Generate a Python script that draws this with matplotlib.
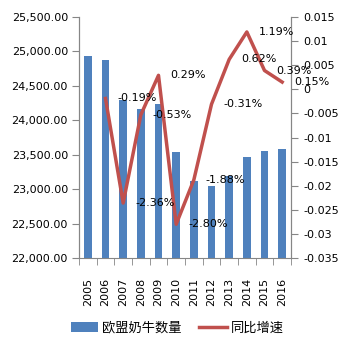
import matplotlib
matplotlib.use("Agg")
import matplotlib.pyplot as plt
import numpy as np
from matplotlib.ticker import FuncFormatter, FixedLocator

plt.rcParams['font.family'] = ['DejaVu Sans', 'Noto Sans CJK SC']

years = ['2005', '2006', '2007', '2008', '2009', '2010', '2011', '2012', '2013', '2014', '2015', '2016']
cows = [24930, 24880, 24290, 24170, 24230, 23545, 23120, 23045, 23190, 23470, 23558, 23588]
growth_years = years[1:]
growth = [-0.0019, -0.0236, -0.0053, 0.0029, -0.0280, -0.0188, -0.0031, 0.0062, 0.0119, 0.0039, 0.0015]
growth_labels = ['-0.19%', '-2.36%', '-0.53%', '0.29%', '-2.80%', '-1.88%', '-0.31%', '0.62%', '1.19%', '0.39%', '0.15%']

bar_color = '#4F81BD'
line_color = '#C0504D'
spine_color = '#868686'

fig = plt.figure(figsize=(3.52, 3.47), dpi=100)
ax = fig.add_axes([79/352, 1-258/347, (291-79)/352, (258-17)/347])
ax2 = ax.twinx()

x = np.arange(len(years))
ax.bar(x, cows, width=0.43, color=bar_color, label='欧盟奶牛数量', zorder=2)
ax.set_ylim(22000, 25500)
ax.set_xlim(-0.5, len(years)-0.5)
ax.set_yticks(np.arange(22000, 25501, 500))
ax.yaxis.set_major_formatter(FuncFormatter(lambda v, p: f'{v:,.2f}'))

xg = np.arange(1, len(years))
ax2.plot(xg, growth, color=line_color, lw=2.5, label='同比增速', zorder=3)
ax2.set_ylim(-0.035, 0.015)
rt = [0.015, 0.01, 0.005, 0, -0.005, -0.01, -0.015, -0.02, -0.025, -0.03, -0.035]
ax2.set_yticks(rt)
ax2.set_yticklabels(['0.015', '0.01', '0.005', '0', '-0.005', '-0.01', '-0.015', '-0.02', '-0.025', '-0.03', '-0.035'])

for xi, gv, lab in zip(xg, growth, growth_labels):
    ax2.annotate(lab, (xi, gv), xytext=(12, 0), textcoords='offset pixels',
                 ha='left', va='center', fontsize=8, color='black')

ax.set_xticks(x)
ax.set_xticklabels(years, rotation=90, fontsize=8)
ax.tick_params(axis='x', which='major', length=0, pad=14)
ax.xaxis.set_minor_locator(FixedLocator(np.arange(-0.5, len(years), 1)))
ax.tick_params(axis='x', which='minor', length=5, color=spine_color, direction='out')
ax.tick_params(axis='y', length=5, color=spine_color, labelsize=8, pad=3)
ax2.tick_params(axis='y', length=5, color=spine_color, labelsize=8, pad=4)

for a in (ax, ax2):
    a.spines['top'].set_visible(False)
    for s in ('left', 'right', 'bottom'):
        a.spines[s].set_color(spine_color)
ax2.spines['bottom'].set_visible(False)

h1, l1 = ax.get_legend_handles_labels()
h2, l2 = ax2.get_legend_handles_labels()
fig.legend(h1 + h2, l1 + l2, loc='center', bbox_to_anchor=(177/352, 1-328/347), ncol=2,
           frameon=False, fontsize=9.5, handlelength=2.1, columnspacing=1.3, handletextpad=0.3)

fig.savefig('out.png', dpi=100)
